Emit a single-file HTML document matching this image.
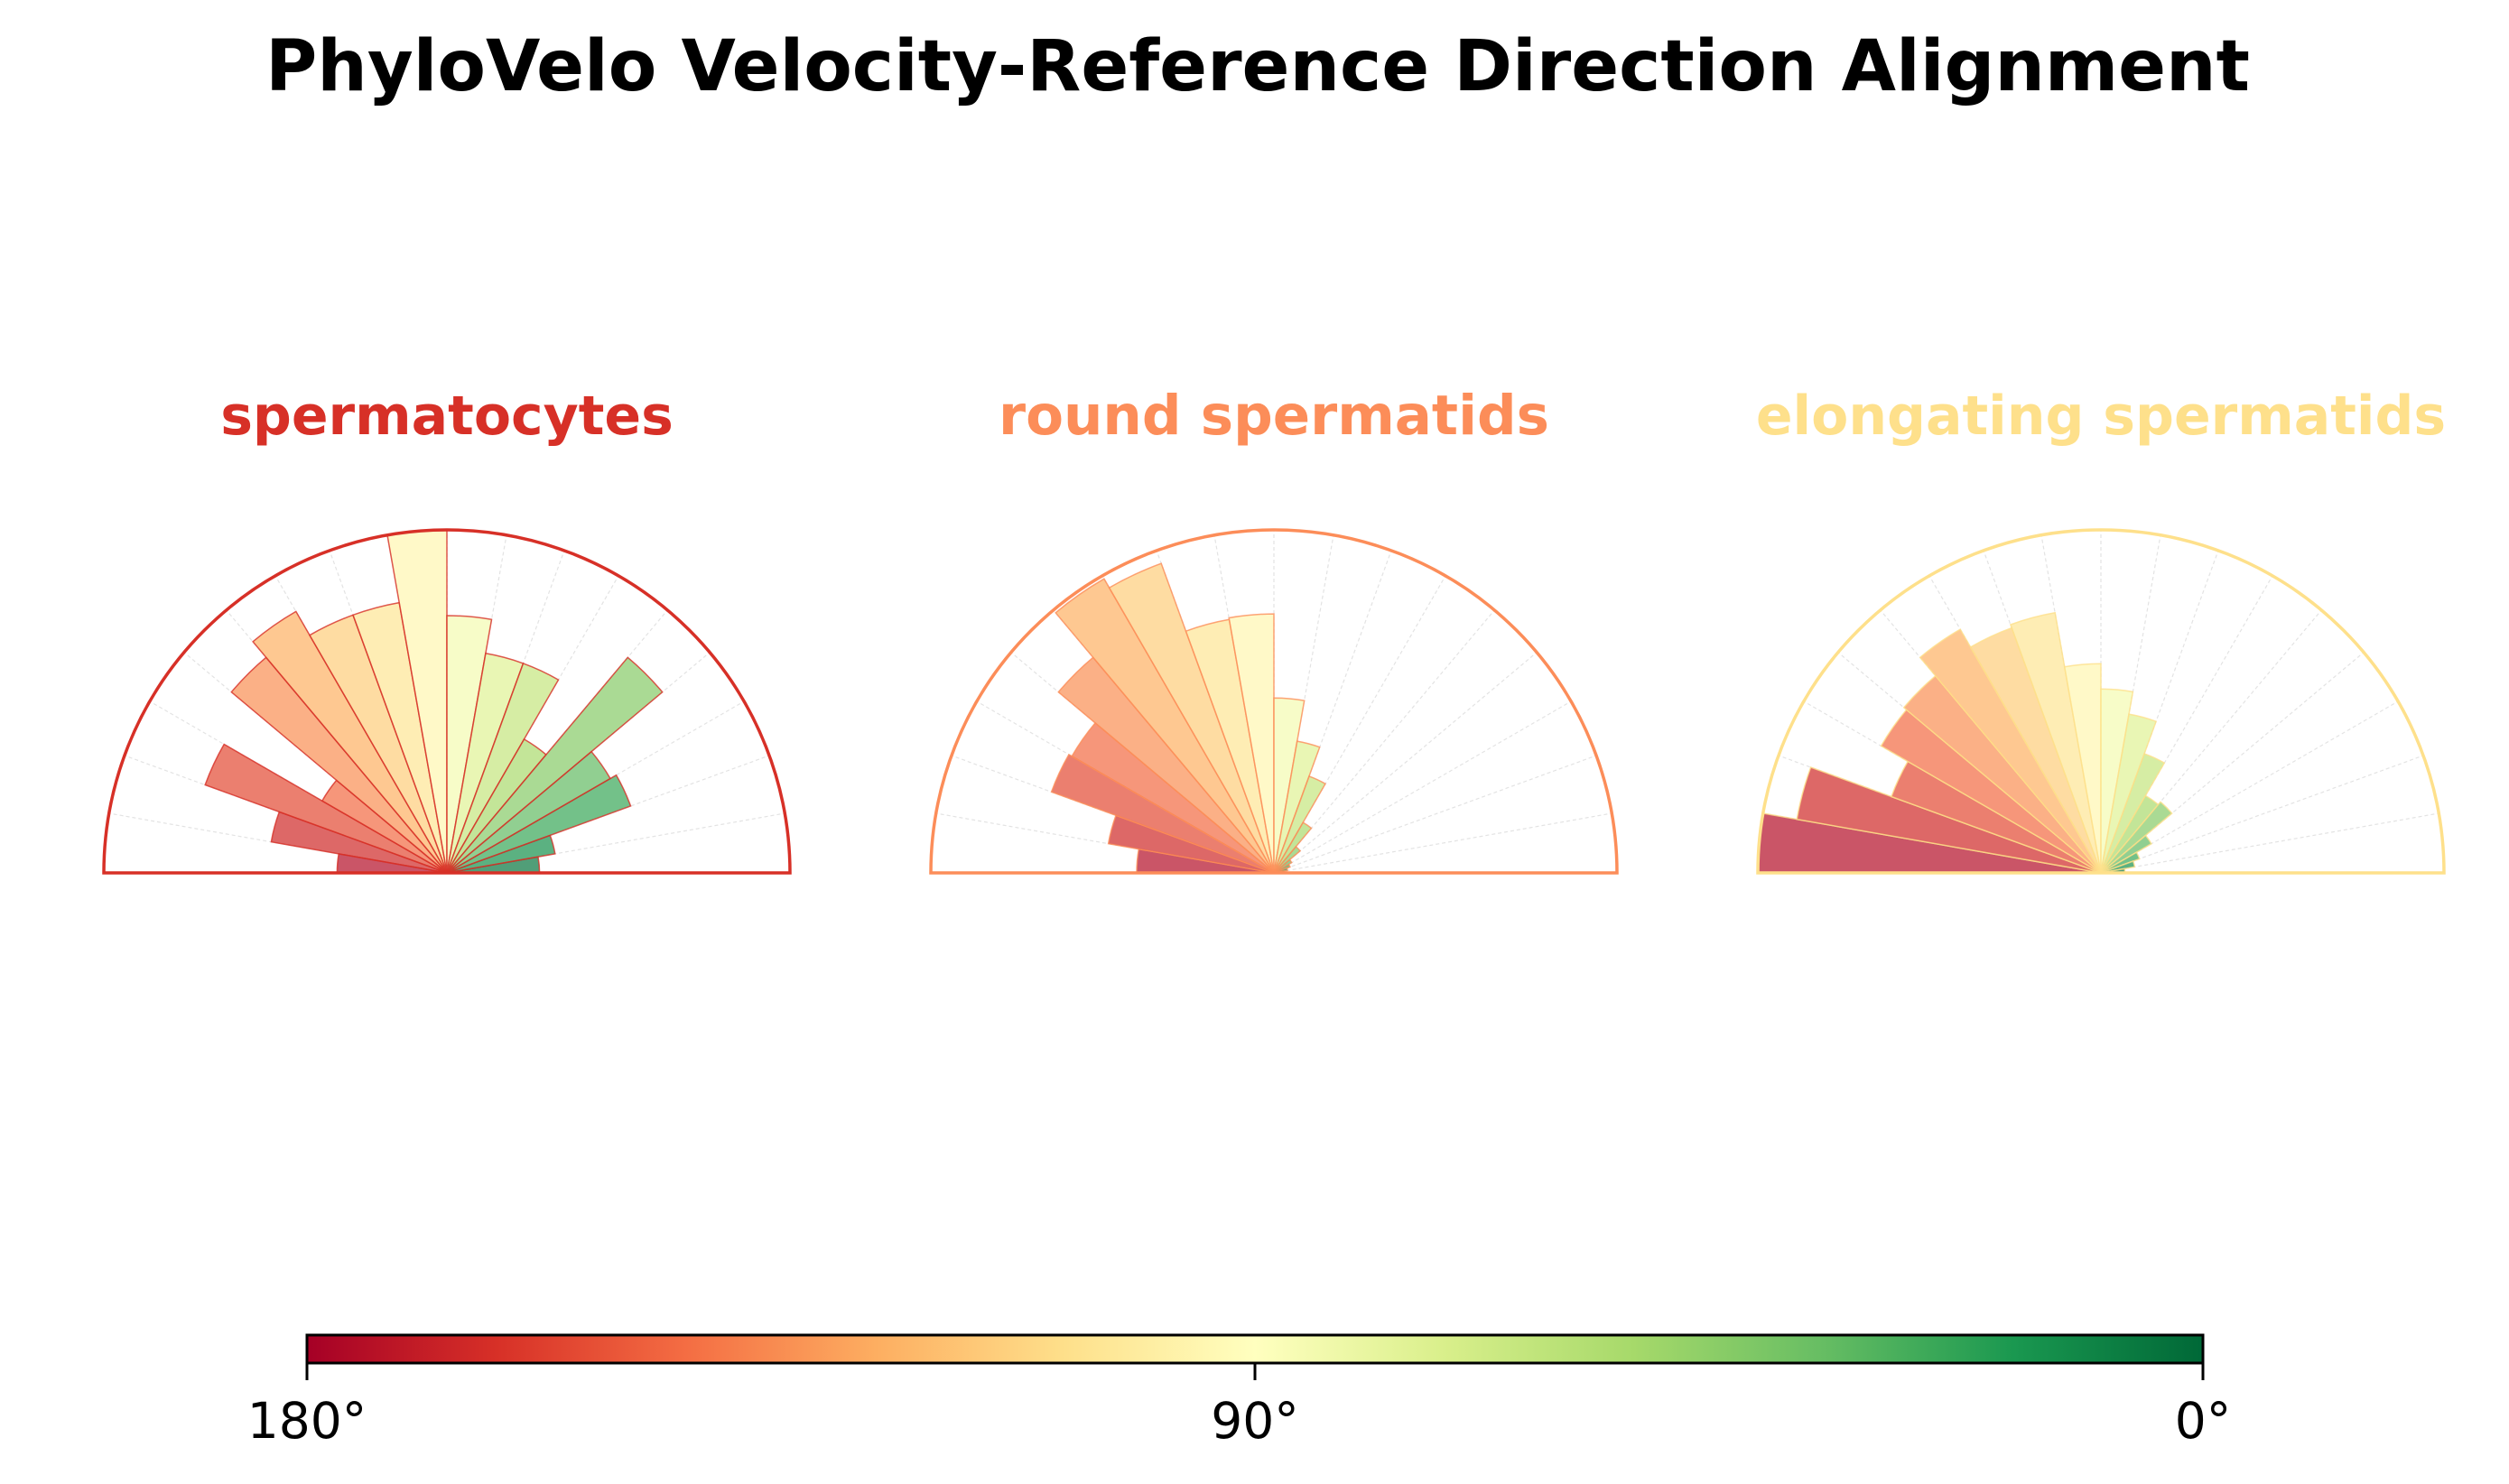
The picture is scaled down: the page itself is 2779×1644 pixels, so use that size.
<!DOCTYPE html>
<html><head><meta charset="utf-8"><style>
html,body{margin:0;padding:0;background:#fff}
body{width:2779px;height:1644px;position:relative;overflow:hidden;font-family:"Liberation Sans","DejaVu Sans",sans-serif}
</style></head><body>
<svg id="s" width="2779" height="1644" viewBox="0 0 2779 1644" xmlns="http://www.w3.org/2000/svg" style="position:absolute;left:0;top:0">
<defs>
<linearGradient id="cb" x1="0" x2="1" y1="0" y2="0">
<stop offset="0" stop-color="#a50026"/><stop offset="0.1" stop-color="#d73027"/><stop offset="0.2" stop-color="#f46d43"/><stop offset="0.3" stop-color="#fdae61"/><stop offset="0.4" stop-color="#fee08b"/><stop offset="0.5" stop-color="#ffffbf"/><stop offset="0.6" stop-color="#d9ef8b"/><stop offset="0.7" stop-color="#a6d96a"/><stop offset="0.8" stop-color="#66bd63"/><stop offset="0.9" stop-color="#1a9850"/><stop offset="1" stop-color="#006837"/>
</linearGradient>
</defs>
<text x="1393" y="100" text-anchor="middle" font-size="78" font-weight="bold" fill="#000" font-family="DejaVu Sans, Liberation Sans, sans-serif">PhyloVelo Velocity-Reference Direction Alignment</text>
<text x="495" y="481" text-anchor="middle" font-size="60" font-weight="bold" fill="#d73027" font-family="DejaVu Sans, Liberation Sans, sans-serif">spermatocytes</text>
<text x="1411" y="481" text-anchor="middle" font-size="61" font-weight="bold" fill="#fc8d59" font-family="DejaVu Sans, Liberation Sans, sans-serif">round spermatids</text>
<text x="2327" y="481" text-anchor="middle" font-size="60" font-weight="bold" fill="#fee08b" font-family="DejaVu Sans, Liberation Sans, sans-serif">elongating spermatids</text>
<g id="panels"></g>
<rect x="340" y="1479" width="2100" height="31" fill="url(#cb)" stroke="#000" stroke-width="3"/>
<line x1="340" y1="1510" x2="340" y2="1529" stroke="#000" stroke-width="3"/>
<line x1="1390" y1="1510" x2="1390" y2="1529" stroke="#000" stroke-width="3"/>
<line x1="2440" y1="1510" x2="2440" y2="1529" stroke="#000" stroke-width="3"/>
<text x="340" y="1593" text-anchor="middle" font-size="55" fill="#000" font-family="DejaVu Sans, Liberation Sans, sans-serif">180°</text>
<text x="1390" y="1593" text-anchor="middle" font-size="55" fill="#000" font-family="DejaVu Sans, Liberation Sans, sans-serif">90°</text>
<text x="2440" y="1593" text-anchor="middle" font-size="55" fill="#000" font-family="DejaVu Sans, Liberation Sans, sans-serif">0°</text>
</svg>
<script>
(function(){
var stops=["#a50026","#d73027","#f46d43","#fdae61","#fee08b","#ffffbf","#d9ef8b","#a6d96a","#66bd63","#1a9850","#006837"];
function hx(c){return [parseInt(c.substr(1,2),16),parseInt(c.substr(3,2),16),parseInt(c.substr(5,2),16)];}
function cmap(t){t=Math.max(0,Math.min(1,t));var f=t*10,i=Math.min(9,Math.floor(f)),u=f-i;var a=hx(stops[i]),b=hx(stops[i+1]);
return "rgb("+a.map(function(v,k){return Math.round(v+(b[k]-v)*u);}).join(",")+")";}
var R=380,cy=967;
var P=[
 {cx:495,col:"#d73027",r:[0.32,0.52,0.75,0.42,0.82,0.88,0.80,0.80,1.0,0.75,0.65,0.65,0.45,0.82,0.55,0.57,0.32,0.27]},
 {cx:1411,col:"#fc8d59",r:[0.40,0.49,0.69,0.68,0.82,0.99,0.96,0.75,0.755,0.51,0.39,0.30,0.17,0.10,0.06,0.05,0.04,0.03]},
 {cx:2327,col:"#fee08b",r:[1.0,0.90,0.65,0.74,0.75,0.82,0.76,0.77,0.61,0.536,0.47,0.37,0.26,0.27,0.17,0.12,0.10,0.07]}
];
var g=document.getElementById("panels"),h="";
P.forEach(function(p){
 var cx=p.cx;
 for(var a=10;a<180;a+=10){var rad=a*Math.PI/180;
  h+='<line x1="'+cx+'" y1="'+cy+'" x2="'+(cx+R*Math.cos(rad)).toFixed(1)+'" y2="'+(cy-R*Math.sin(rad)).toFixed(1)+'" stroke="#e3e3e3" stroke-width="1.2" stroke-dasharray="4,3"/>';}
 for(var i=0;i<18;i++){
  var a2=(180-i*10)*Math.PI/180,a1=(170-i*10)*Math.PI/180,rr=p.r[i]*R;
  var c=(175-i*10)/180; var col=cmap(1-c);
  var x1=cx+rr*Math.cos(a2),y1=cy-rr*Math.sin(a2),x2=cx+rr*Math.cos(a1),y2=cy-rr*Math.sin(a1);
  h+='<path d="M'+cx+' '+cy+' L'+x1.toFixed(1)+' '+y1.toFixed(1)+' A'+rr.toFixed(1)+' '+rr.toFixed(1)+' 0 0 1 '+x2.toFixed(1)+' '+y2.toFixed(1)+' Z" fill="'+col+'" fill-opacity="0.7" stroke="'+p.col+'" stroke-width="1.5" stroke-opacity="0.8"/>';
 }
 h+='<path d="M'+(cx-R)+' '+cy+' A'+R+' '+R+' 0 0 1 '+(cx+R)+' '+cy+' Z" fill="none" stroke="'+p.col+'" stroke-width="3.5"/>';
});
g.innerHTML=h;
})();
</script>
</body></html>
